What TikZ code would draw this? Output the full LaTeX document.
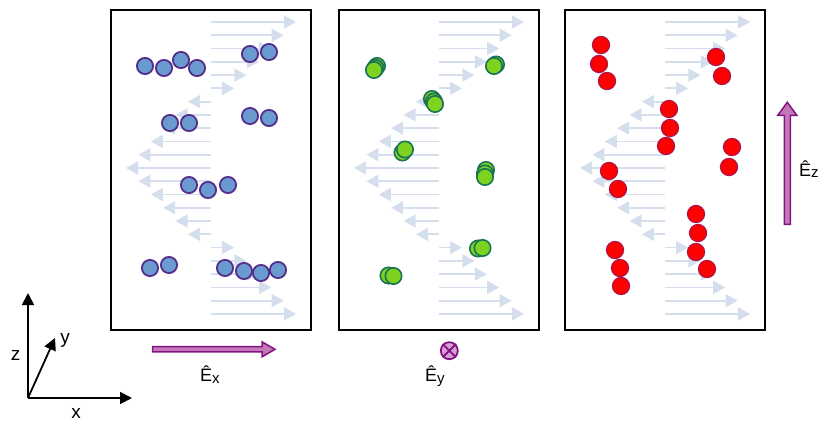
\documentclass[tikz,border=0pt]{standalone}
\usepackage{fontspec}
\setmainfont{Liberation Sans}
\usetikzlibrary{arrows.meta, calc}
\definecolor{ballblue}{RGB}{106,155,208}
\definecolor{blueedge}{RGB}{85,45,140}
\definecolor{ballgreen}{RGB}{126,211,33}
\definecolor{greenedge}{RGB}{25,115,85}
\definecolor{rededge}{RGB}{175,20,70}
\definecolor{wavecol}{RGB}{212,222,237}
\definecolor{fieldedge}{RGB}{130,20,130}
\definecolor{fieldfill}{RGB}{196,120,185}
\definecolor{otimesfill}{RGB}{215,160,210}

\begin{document}
\begin{tikzpicture}[x=1pt, y=-1pt,
    panel/.style={draw=black, line width=2.6pt, minimum width=200pt, minimum height=320pt, inner sep=0pt},
    blueball/.style={circle, inner sep=0pt, minimum size=16.2pt, fill=ballblue, draw=blueedge, line width=1.8pt},
    greenball/.style={circle, inner sep=0pt, minimum size=16.4pt, fill=ballgreen, draw=greenedge, line width=1.6pt},
    redball/.style={circle, inner sep=0pt, minimum size=17.1pt, fill=red, draw=rededge, line width=1.2pt},
    wavearrow/.style={draw=wavecol, fill=wavecol, line width=1.8pt, -{Triangle[length=12pt,width=13pt]}},
    axis/.style={line width=1.8pt, -{Triangle[length=12pt,width=12pt]}},
    fieldarrow/.style={draw=fieldedge, fill=fieldfill, line width=1.5pt},
    axlbl/.style={inner sep=0pt, font=\fontsize{19}{20}\selectfont},
    elbl/.style={inner sep=0pt, anchor=base west, font=\fontsize{18}{20}\selectfont}]
    \useasboundingbox (0,0) rectangle (827,425);

    \node[panel] (px) at (211,170) {};
    \node[panel] (py) at (439,170) {};
    \node[panel] (pz) at (665,170) {};

    \foreach \p in {px,py,pz}{
      \foreach \i in {0,...,22}{
        \pgfmathsetmacro{\wavepos}{\i<6 ? 5.5-\i : (\i<17 ? abs(\i-11)-5.5 : \i-16.5)}
        \pgfmathsetmacro{\wavelen}{\wavepos>0 ? 16.8+12.4*\wavepos : -16.8+12.4*\wavepos}
        \draw[wavearrow] ($(\p.north)+(0,13.3+13.27*\i)$) -- ++(\wavelen,0);
      }
    }

    \foreach \x/\y [count=\n] in {145/66,164/68,181/60,197/68,250/54,269/52,170/123,189/123,
        250/116,269/118,189/185,208/190,228/185,150/268,169/265,225/268,244/271,261/273,278/270}
        \node[blueball] (blue\n) at (\x,\y) {};

    \foreach \x/\y [count=\n] in {377/66,375.5/68,374/70,496/64.5,494/66,432/99,434/101.5,435/104,
        402.5/152.5,405/149.5,486/170,485/173.5,485/177,478/248.5,482.5/248,388.5/275.5,393.5/276}
        \node[greenball] (green\n) at (\x,\y) {};

    \foreach \x/\y [count=\n] in {601/45,599/64,607/81,716/57,722/76,669/109,670/128,666/146,
        732/147,729/167,609/171,618/189,696/214,698/233,696/252,707/269,615/250,620/268,621/286}
        \node[redball] (red\n) at (\x,\y) {};

    \coordinate (o) at (28,398);
    \coordinate (zt) at (28,293);
    \coordinate (xt) at (132,398);
    \coordinate (yt) at (55,338);
    \draw[axis] (o) -- (zt);
    \draw[axis] (o) -- (xt);
    \draw[axis] (o) -- (yt);
    \node[axlbl] (zl) at (15.5,355) {z};
    \node[axlbl] (yl) at (65,340.5) {y};
    \node[axlbl] (xl) at (76,413) {x};

    \coordinate (ex1) at (152.7,349.3);
    \coordinate (ex2) at (275,349.3);
    \draw[fieldarrow] ($(ex1)+(0,-2.6)$) -- ($(ex2)+(-13,-2.6)$) -- ($(ex2)+(-13,-7.5)$) -- (ex2)
        -- ($(ex2)+(-13,7.5)$) -- ($(ex2)+(-13,2.6)$) -- ($(ex1)+(0,2.6)$) -- cycle;
    \node[elbl] (exl) at (200,381.7) {Ê\raisebox{-1.5pt}{\fontsize{15}{15}\selectfont x}};

    \node[circle, draw=fieldedge, fill=otimesfill, line width=1.8pt, minimum size=17pt, inner sep=0pt] (ey) at (449.3,350.7) {};
    \draw[fieldedge, line width=1.8pt] (ey.north west) -- (ey.south east) (ey.north east) -- (ey.south west);
    \node[elbl] (eyl) at (425,381.7) {Ê\raisebox{-1.5pt}{\fontsize{15}{15}\selectfont y}};

    \coordinate (ez1) at (787.3,224.3);
    \coordinate (ez2) at (787.3,102.3);
    \draw[fieldarrow] ($(ez1)+(-3,0)$) -- ($(ez2)+(-3,13)$) -- ($(ez2)+(-9.5,13)$) -- (ez2)
        -- ($(ez2)+(9.5,13)$) -- ($(ez2)+(3,13)$) -- ($(ez1)+(3,0)$) -- cycle;
    \node[elbl] (ezl) at (799,176) {Ê\raisebox{-1.5pt}{\fontsize{15}{15}\selectfont z}};
\end{tikzpicture}
\end{document}
